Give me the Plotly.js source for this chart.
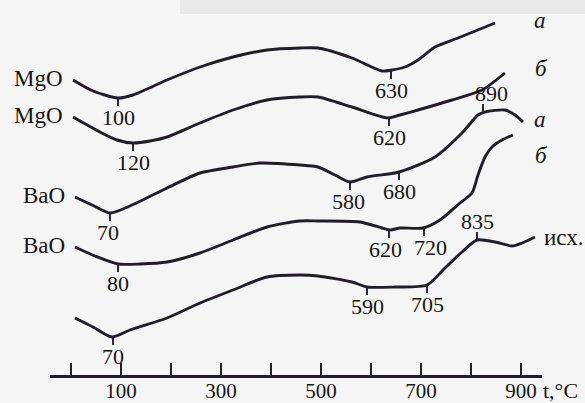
<!DOCTYPE html>
<html>
<head>
<meta charset="utf-8">
<script src="https://cdn.plot.ly/plotly-3.0.1.min.js"></script>
<style>html,body{margin:0;padding:0;background:#f5f5f5;}#chart{width:585px;height:403px;}</style>
</head>
<body>
<div id="chart"></div>
<script>
// Temperatures (°C) and DTA signal (arbitrary units)
var mgoA_T   = [4, 44, 94, 124, 192, 258, 324, 392, 458, 494, 562, 622, 642, 668, 694, 728, 774, 848];
var mgoA_S   = [323, 312, 305, 308, 323, 336, 346, 353, 355, 355, 345, 332, 333, 336, 343, 356, 365, 380];
var mgoB_T   = [4, 58, 92, 124, 158, 192, 258, 324, 392, 458, 494, 562, 634, 658, 694, 762, 822, 868];
var mgoB_S   = [286, 271, 263, 260, 262, 266, 280, 293, 303, 306, 306, 296, 285, 288, 293, 303, 313, 330];
var baoA_T   = [8, 42, 78, 118, 192, 258, 324, 378, 458, 494, 528, 558, 592, 656, 728, 782, 814, 828, 868, 888, 904];
var baoA_S   = [206, 198, 190, 197, 215, 230, 236, 240, 238, 236, 228, 221, 226, 231, 246, 270, 288, 291, 293, 288, 281];
var baoB_T   = [8, 48, 94, 138, 192, 258, 324, 392, 458, 494, 578, 622, 638, 658, 704, 738, 778, 802, 814, 828, 842, 862, 884];
var baoB_S   = [156, 147, 139, 139, 141, 150, 163, 176, 182, 182, 181, 175, 173, 175, 175, 183, 200, 210, 228, 246, 256, 263, 268];
var init_T   = [8, 44, 82, 118, 192, 258, 324, 392, 458, 494, 562, 592, 648, 712, 748, 782, 812, 848, 882, 902, 928];
var init_S   = [85, 76, 66, 73, 85, 100, 113, 126, 128, 127, 121, 116, 116, 118, 135, 151, 163, 161, 157, 160, 166];

var curveNames  = ["MgO", "MgO", "BaO", "BaO", ""];
var curveSuffix = ["а", "б", "а", "б", "исх."];

// Peak marks: temperature position, signal on curve, label
var markT     = [94, 640, 124, 636, 78, 558, 656, 824, 94, 636, 706, 84, 592, 712, 812];
var markS     = [305, 332, 260, 285, 190, 221, 231, 291, 139, 173, 175, 66, 116, 118, 163];
var markDir   = [-1, -1, -1, -1, -1, -1, -1, 1, -1, -1, -1, -1, -1, -1, 1];
var markText  = ["100", "630", "120", "620", "70", "580", "680", "890", "80", "620", "720", "70", "590", "705", "835"];

var tickVals  = [0, 100, 200, 300, 400, 500, 600, 700, 800, 900];
var tickText  = ["", "100", "", "300", "", "500", "", "700", "", "900"];

var INK = "#231c2a";
var TXT = "#151515";
var FONT = "Liberation Serif, Times New Roman, serif";
var FS = 22;

// small horizontal nudges of labels relative to their marks (pixels)
var labelShift = [0, 0, 0, 0, -2, -2, 0, 8, 0, -4, 6, 0, 0, 0, 0];

var series = [[mgoA_T, mgoA_S], [mgoB_T, mgoB_S], [baoA_T, baoA_S], [baoB_T, baoB_S], [init_T, init_S]];
var traces = [];
series.forEach(function (s) {
  traces.push({x: s[0], y: s[1], mode: "lines", type: "scatter", cliponaxis: false,
    line: {color: INK, width: 2.9, shape: "spline", smoothing: 0.7}, hoverinfo: "none", showlegend: false});
});

var annotations = [];
var TL = 8; // tick length in signal units
markT.forEach(function (t, i) {
  var end = markS[i] + markDir[i] * TL;
  traces.push({x: [t, t], y: [markS[i], end], mode: "lines", type: "scatter", cliponaxis: false,
    line: {color: INK, width: 1.9}, hoverinfo: "none", showlegend: false});
  annotations.push({x: t, xshift: labelShift[i], y: end + markDir[i] * 11, xref: "x", yref: "y", text: markText[i], showarrow: false,
    xanchor: "center", yanchor: "middle", font: {family: FONT, size: FS, color: TXT}});
});

// left names at curve starts
series.forEach(function (s, i) {
  if (curveNames[i]) {
    annotations.push({x: s[0][0] - 16, y: s[1][0] + 2, xref: "x", yref: "y", text: curveNames[i], showarrow: false,
      xanchor: "right", yanchor: "middle", font: {family: FONT, size: 23, color: TXT}});
  }
});
// right-hand curve designations (paper pixel positions, left edge)
var sufX = [532, 533, 532, 533, 542];
var sufY = [20, 68, 119, 155, 237];
curveSuffix.forEach(function (txt, i) {
  annotations.push({x: sufX[i] / 585, y: 1 - sufY[i] / 403, xref: "paper", yref: "paper", text: txt, showarrow: false,
    xanchor: "left", yanchor: "middle",
    font: {family: FONT, size: 23, color: TXT, style: i === 4 ? "normal" : "italic"}});
});
annotations.push({x: 940, y: 13, xref: "x", yref: "y", text: "t,°C", showarrow: false,
  xanchor: "left", yanchor: "middle", font: {family: FONT, size: 22, color: TXT}});

var layout = {
  width: 585, height: 403,
  margin: {l: 0, r: 0, t: 0, b: 0},
  paper_bgcolor: "#f5f5f5", plot_bgcolor: "rgba(0,0,0,0)",
  showlegend: false,
  xaxis: {domain: [50 / 585, 542 / 585], range: [-42, 942], anchor: "free", position: 27 / 403,
    showline: true, linecolor: INK, linewidth: 2.6, showgrid: false, zeroline: false,
    ticks: "inside", ticklen: 12, tickwidth: 2, tickcolor: INK,
    tickvals: tickVals, ticktext: tickText, tickangle: 0, ticklabelstandoff: -5,
    tickfont: {family: FONT, size: 21, color: TXT}, fixedrange: true},
  yaxis: {domain: [0, 1], range: [0, 403], visible: false, fixedrange: true},
  shapes: [
    {type: "rect", xref: "paper", yref: "paper", x0: 180 / 585, x1: 1, y0: 1 - 14 / 403, y1: 1,
      fillcolor: "#e9e9e9", line: {width: 0}, layer: "below"}
  ],
  annotations: annotations
};

Plotly.newPlot("chart", traces, layout, {displayModeBar: false, staticPlot: true});
</script>
</body>
</html>
